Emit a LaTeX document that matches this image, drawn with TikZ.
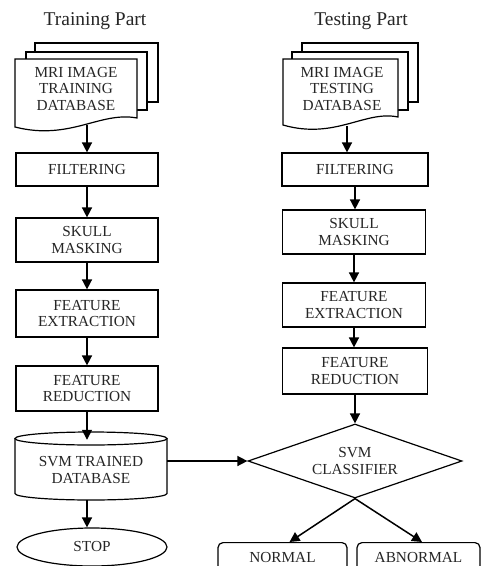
\documentclass[tikz,border=0pt]{standalone}
\usepackage{fontspec}
\setmainfont{Liberation Serif}
\usetikzlibrary{arrows.meta,shapes.geometric}
\begin{document}
\begin{tikzpicture}[x=1pt,y=-1pt,
  lbl/.style={font=\fontsize{15.3}{16.8}\selectfont, text=black!85, align=center},
  pbox/.style={lbl, draw, line width=1.2pt, inner sep=0pt},
  arr/.style={line width=1.5pt, -{Triangle[length=10pt,width=10pt]}},
  shp/.style={draw, line width=1.2pt, fill=white},
  ttl/.style={font=\fontsize{19.5}{22}\selectfont, text=black!85}
]
\useasboundingbox (0,0) rectangle (484,566);
\fill[white] (0,0) rectangle (484,566);

% titles
\node[ttl] (ttr) at (95,21) {Training Part};
\node[ttl] (tte) at (361,21) {Testing Part};

% training document stack
\draw[shp] (35,43) rectangle (158,102);
\draw[shp] (26,52) rectangle (147,110);
\draw[shp] (15,59) -- (137,59) -- (137,118) .. controls (100,111) and (70,141) .. (15,127) -- cycle;
\node[lbl] (trdoc) at (76,89) {MRI IMAGE\\TRAINING\\DATABASE};
\coordinate (trdocb) at (87,125);

% testing document stack
\draw[shp] (302,43) rectangle (418,102);
\draw[shp] (292,52) rectangle (408,110);
\draw[shp] (283,59) -- (398,59) -- (398,117) .. controls (365,110) and (335,140) .. (283,125) -- cycle;
\node[lbl] (tedoc) at (342,89) {MRI IMAGE\\TESTING\\DATABASE};
\coordinate (tedocb) at (347,126);

% training boxes
\node[pbox, minimum width=142pt, minimum height=33pt] (trf) at (87,169.5) {FILTERING};
\node[pbox, minimum width=142pt, minimum height=44pt] (trs) at (87,240) {SKULL\\MASKING};
\node[pbox, minimum width=142pt, minimum height=47pt] (tre) at (87,313.5) {FEATURE\\EXTRACTION};
\node[pbox, minimum width=142pt, minimum height=45pt] (trr) at (87,388.5) {FEATURE\\REDUCTION};

% testing boxes
\node[pbox, minimum width=146pt, minimum height=33pt] (tef) at (355,169.5) {FILTERING};
\node[pbox, minimum width=143pt, minimum height=44pt] (tes) at (354,232) {SKULL\\MASKING};
\node[pbox, minimum width=143pt, minimum height=44pt] (tee) at (354,305) {FEATURE\\EXTRACTION};
\node[pbox, minimum width=145pt, minimum height=46pt] (ter) at (355,371) {FEATURE\\REDUCTION};

% cylinder
\draw[shp] (15,438.5) -- (15,493.5) arc[start angle=180, end angle=0, x radius=76, y radius=6.5] -- (167,438.5);
\draw[shp] (91,438.5) ellipse [x radius=76, y radius=6.5];
\node[lbl, minimum width=152pt, minimum height=60pt, inner sep=0pt] (db) at (91,470) {SVM TRAINED\\DATABASE};

% stop
\node[pbox, ellipse, minimum width=150pt, minimum height=38pt] (stop) at (92,547) {STOP};

% classifier
\node[pbox, diamond, aspect=2.9, minimum width=214pt, minimum height=74pt] (cls) at (355,461) {SVM\\CLASSIFIER};

% outputs
\node[pbox, rounded corners=5pt, minimum width=129pt, text height=11pt, text depth=35pt, inner ysep=9pt, anchor=north] (nor) at (282.5,542) {NORMAL};
\node[pbox, rounded corners=5pt, minimum width=123pt, text height=11pt, text depth=35pt, inner ysep=9pt, anchor=north] (abn) at (418.5,542) {ABNORMAL};

% connectors training
\draw[arr] (trdocb) -- (trdocb |- trf.north);
\draw[arr] (trf.south) -- (trs.north);
\draw[arr] (trs.south) -- (tre.north);
\draw[arr] (tre.south) -- (trr.north);
\draw[arr] (trr.south) -- (db.north -| trr.south);
\draw[arr] (db.south -| trr.south) -- (stop.north -| trr.south);
\draw[arr] ([yshift=9pt]db.east) -- (cls.west);

% connectors testing
\draw[arr] (tedocb) -- (tedocb |- tef.north);
\draw[arr] (tef.south) -- (tef.south |- tes.north);
\draw[arr] (tes.south) -- (tee.north);
\draw[arr] (tee.south) -- (tee.south |- ter.north);
\draw[arr] (ter.south) -- (cls.north);
\draw[arr] (cls.south) -- ([xshift=7pt]nor.north);
\draw[arr] (cls.south) -- ([xshift=3.5pt]abn.north);
\end{tikzpicture}
\end{document}
